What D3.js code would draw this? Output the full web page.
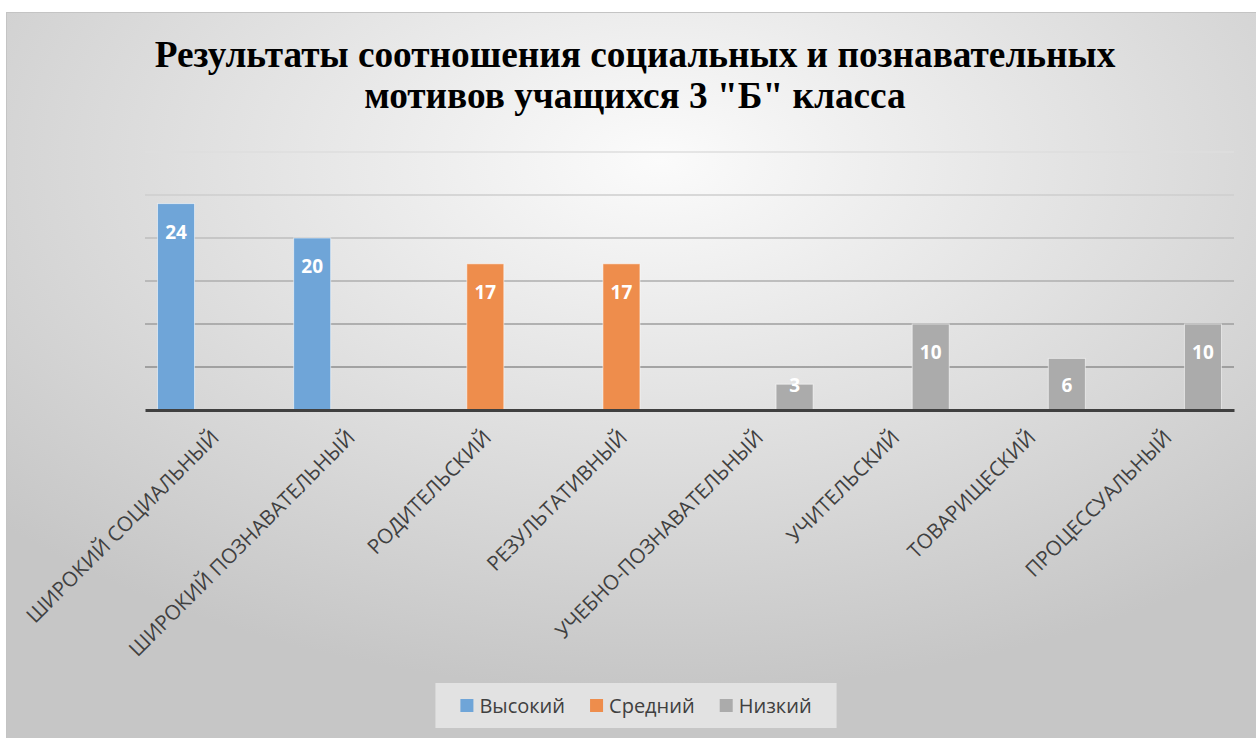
<!DOCTYPE html>
<html>
<head>
<meta charset="utf-8">
<script src="https://cdn.jsdelivr.net/npm/d3@7"></script>
<style>
  body { margin: 0; background: #fff; }
  svg { display: block; }
</style>
</head>
<body>
<div id="chart"></div>
<script>
// data
const categories = ["ШИРОКИЙ СОЦИАЛЬНЫЙ", "ШИРОКИЙ ПОЗНАВАТЕЛЬНЫЙ", "РОДИТЕЛЬСКИЙ", "РЕЗУЛЬТАТИВНЫЙ",
  "УЧЕБНО-ПОЗНАВАТЕЛЬНЫЙ", "УЧИТЕЛЬСКИЙ", "ТОВАРИЩЕСКИЙ", "ПРОЦЕССУАЛЬНЫЙ"];
const seriesNames = ["Высокий", "Средний", "Низкий"];
const highValues = [24, 20, null, null, null, null, null, null];
const midValues = [null, null, 17, 17, null, null, null, null];
const lowValues = [null, null, null, null, 3, 10, 6, 10];
const yTicks = [5, 10, 15, 20, 25, 30];
const titleLines = ["Результаты соотношения социальных и познавательных", "мотивов учащихся 3 \"Б\" класса"];

const width = 1256;
const height = 738;
const colors = ["#6fa5d8", "#ee8d4c", "#ababab"];
const seriesValues = [highValues, midValues, lowValues];

const svg = d3.select("#chart").append("svg").attr("width", width).attr("height", height);

// chart area background
const grad = svg.append("defs").append("radialGradient").attr("id", "bg")
  .attr("cx", "52%").attr("cy", "20%").attr("r", "72%");
grad.append("stop").attr("offset", "0%").attr("stop-color", "#fbfbfb");
grad.append("stop").attr("offset", "100%").attr("stop-color", "#c6c6c6");
svg.append("rect").attr("x", 6.5).attr("y", 12.5).attr("width", width).attr("height", height)
  .attr("fill", "url(#bg)").attr("stroke", "#c4c4c4");

//Scales
const x0 = d3.scaleBand().domain(categories).range([145, 1234]).paddingInner(0.184).paddingOuter(0.092);
const x1 = d3.scaleBand().domain(seriesNames).range([0, x0.bandwidth()]);
const y = d3.scaleLinear().domain([0, 30]).range([410, 152]);
const gridColor = d3.scaleLinear().domain([5, 30]).range(["#8e8e8e", "#dedede"]);

//gridlines
svg.append("g").selectAll("line").data(yTicks).enter().append("line")
  .attr("x1", 145).attr("x2", 1234)
  .attr("y1", d => y(d)).attr("y2", d => y(d))
  .attr("stroke", d => gridColor(d)).attr("stroke-width", 1.5);

//bars
const bars = [];
categories.forEach((c, i) => seriesNames.forEach((s, j) => {
  const v = seriesValues[j][i];
  if (v != null) bars.push({ cat: c, series: s, value: v, color: colors[j] });
}));

svg.append("g").selectAll("rect").data(bars).enter().append("rect")
  .attr("x", d => x0(d.cat) + x1(d.series))
  .attr("y", d => y(d.value))
  .attr("width", x1.bandwidth())
  .attr("height", d => y(0) - y(d.value))
  .attr("fill", d => d.color)
  .attr("stroke", "rgba(255,255,255,0.55)").attr("stroke-width", 1);

//value labels
svg.append("g").selectAll("text").data(bars).enter().append("text")
  .attr("x", d => x0(d.cat) + x1(d.series) + x1.bandwidth() / 2)
  .attr("y", d => Math.min(y(d.value) + 35, y(0) - 18))
  .attr("text-anchor", "middle")
  .attr("fill", "#fff").style("font-family", "'Open Sans', sans-serif")
  .style("font-weight", "bold").style("font-size", "19px")
  .text(d => d.value);

//x axis
const xAxis = svg.append("g").attr("transform", "translate(0,410)")
  .call(d3.axisBottom(x0).tickSize(0).tickSizeOuter(0).tickPadding(0));
xAxis.select(".domain").attr("stroke", "#404040").attr("stroke-width", 3);
xAxis.selectAll(".tick text")
  .attr("transform", "translate(2,24) rotate(-45)")
  .attr("text-anchor", "end")
  .attr("dy", "0.35em").attr("y", 0)
  .attr("fill", "#404040")
  .style("font-family", "'Open Sans', sans-serif").style("font-size", "20.5px");

//title
svg.append("g").selectAll("text").data(titleLines).enter().append("text")
  .attr("x", 635).attr("y", (d, i) => 67 + i * 41)
  .attr("text-anchor", "middle")
  .style("font-family", "'Liberation Serif', 'DejaVu Serif', serif")
  .style("font-weight", "bold").style("font-size", "37.3px")
  .attr("fill", "#000")
  .text(d => d);

//legend
const legend = svg.append("g");
const legendBox = legend.append("rect").attr("y", 683).attr("height", 45).attr("fill", "#e6e6e6").attr("opacity", 0.85);
let lx = 0;
const items = legend.selectAll("g.item").data(seriesNames).enter().append("g").attr("class", "item");
items.each(function (d, i) {
  const g = d3.select(this);
  g.append("rect").attr("x", lx).attr("y", 699).attr("width", 13).attr("height", 13).attr("fill", colors[i]);
  const t = g.append("text").attr("x", lx + 19).attr("y", 713)
    .style("font-family", "'Open Sans', sans-serif").style("font-size", "20px")
    .attr("fill", "#404040").text(d);
  lx += 19 + t.node().getComputedTextLength() + 25;
});
const legendW = lx - 25;
items.attr("transform", `translate(${636 - legendW / 2},0)`);
legendBox.attr("x", 636 - legendW / 2 - 25).attr("width", legendW + 50);
</script>
</body>
</html>
